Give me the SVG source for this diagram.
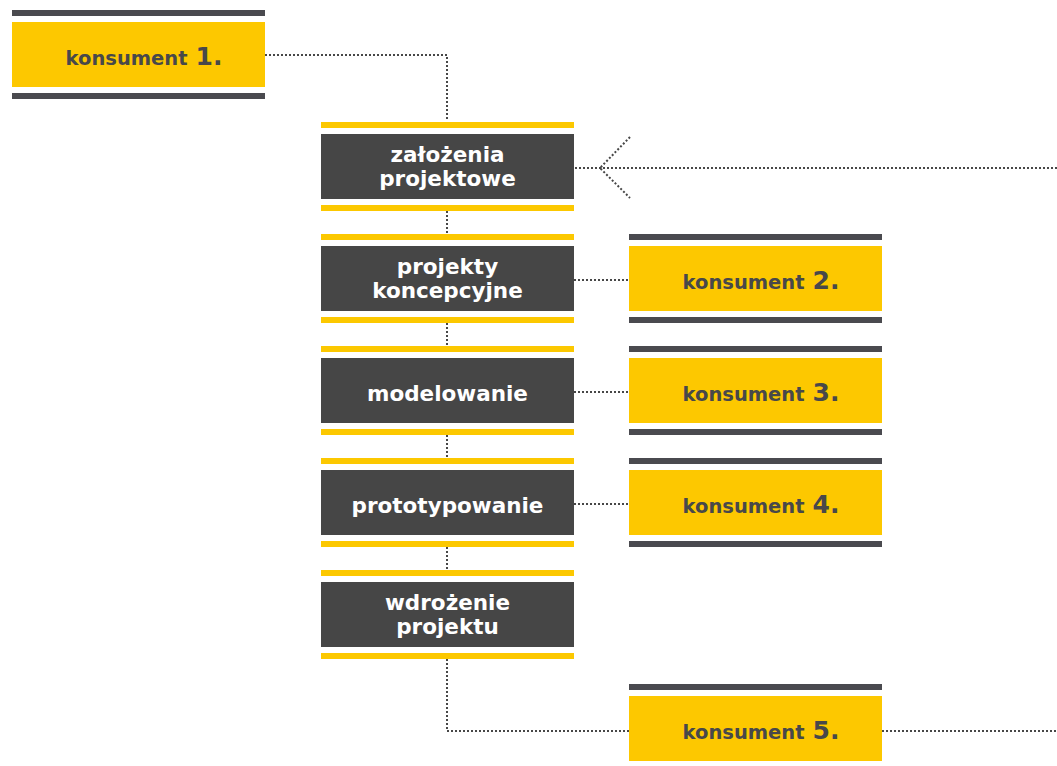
<svg xmlns="http://www.w3.org/2000/svg" width="1057" height="766" viewBox="0 0 1057 766">
<style>
.bg{fill:#ffffff}
.ybar{fill:#fcc800}
.dbar{fill:#4a4a4f}
.nodebox{fill:#464646}
.kbox{fill:#fdc800}
.ntext{font-family:"DejaVu Sans",sans-serif;font-weight:bold;font-size:21.5px;fill:#ffffff;text-anchor:middle}
.ktext{font-family:"DejaVu Sans",sans-serif;font-weight:bold;font-size:19.5px;fill:#48484a;text-anchor:middle}
.num{font-size:25px}
.conn{fill:none;stroke:#474747;stroke-width:2;stroke-dasharray:2 2}
</style>
<rect class="bg" x="0" y="0" width="1057" height="766"/>
<g id="connectors">
<path class="conn" d="M265 55 H447 V121"/>
<path class="conn" d="M447 211 V234"/>
<path class="conn" d="M447 323 V346"/>
<path class="conn" d="M447 435 V458"/>
<path class="conn" d="M447 547 V570"/>
<path class="conn" d="M447 659 V731 H629"/>
<path class="conn" d="M882 731 H1057"/>
<path class="conn" d="M574 280 H629"/>
<path class="conn" d="M574 392 H629"/>
<path class="conn" d="M574 504 H629"/>
<path class="conn" d="M1057 168 H575"/>
<path class="conn" d="M630 137 L600 168 L630 198"/>
</g>
<g id="konsument1">
<rect class="dbar" x="12" y="10" width="253" height="6"/>
<rect class="kbox" x="12" y="22" width="253" height="65"/>
<rect class="dbar" x="12" y="93" width="253" height="6"/>
<text class="ktext" x="144" y="65">konsument<tspan class="num" dx="8">1.</tspan></text>
</g>
<g id="zalozenia">
<rect class="ybar" x="321" y="122" width="253" height="6"/>
<rect class="nodebox" x="321" y="134" width="253" height="65"/>
<rect class="ybar" x="321" y="205" width="253" height="6"/>
<text class="ntext" x="447.5" y="162">założenia</text>
<text class="ntext" x="447.5" y="186">projektowe</text>
</g>
<g id="projekty">
<rect class="ybar" x="321" y="234" width="253" height="6"/>
<rect class="nodebox" x="321" y="246" width="253" height="65"/>
<rect class="ybar" x="321" y="317" width="253" height="6"/>
<text class="ntext" x="447.5" y="274">projekty</text>
<text class="ntext" x="447.5" y="298">koncepcyjne</text>
</g>
<g id="konsument2">
<rect class="dbar" x="629" y="234" width="253" height="6"/>
<rect class="kbox" x="629" y="246" width="253" height="65"/>
<rect class="dbar" x="629" y="317" width="253" height="6"/>
<text class="ktext" x="761" y="289">konsument<tspan class="num" dx="8">2.</tspan></text>
</g>
<g id="modelowanie">
<rect class="ybar" x="321" y="346" width="253" height="6"/>
<rect class="nodebox" x="321" y="358" width="253" height="65"/>
<rect class="ybar" x="321" y="429" width="253" height="6"/>
<text class="ntext" x="447.5" y="401">modelowanie</text>
</g>
<g id="konsument3">
<rect class="dbar" x="629" y="346" width="253" height="6"/>
<rect class="kbox" x="629" y="358" width="253" height="65"/>
<rect class="dbar" x="629" y="429" width="253" height="6"/>
<text class="ktext" x="761" y="401">konsument<tspan class="num" dx="8">3.</tspan></text>
</g>
<g id="prototypowanie">
<rect class="ybar" x="321" y="458" width="253" height="6"/>
<rect class="nodebox" x="321" y="470" width="253" height="65"/>
<rect class="ybar" x="321" y="541" width="253" height="6"/>
<text class="ntext" x="447.5" y="513">prototypowanie</text>
</g>
<g id="konsument4">
<rect class="dbar" x="629" y="458" width="253" height="6"/>
<rect class="kbox" x="629" y="470" width="253" height="65"/>
<rect class="dbar" x="629" y="541" width="253" height="6"/>
<text class="ktext" x="761" y="513">konsument<tspan class="num" dx="8">4.</tspan></text>
</g>
<g id="wdrozenie">
<rect class="ybar" x="321" y="570" width="253" height="6"/>
<rect class="nodebox" x="321" y="582" width="253" height="65"/>
<rect class="ybar" x="321" y="653" width="253" height="6"/>
<text class="ntext" x="447.5" y="610">wdrożenie</text>
<text class="ntext" x="447.5" y="634">projektu</text>
</g>
<g id="konsument5">
<rect class="dbar" x="629" y="684" width="253" height="6"/>
<rect class="kbox" x="629" y="696" width="253" height="65"/>
<text class="ktext" x="761" y="739">konsument<tspan class="num" dx="8">5.</tspan></text>
</g>
</svg>
